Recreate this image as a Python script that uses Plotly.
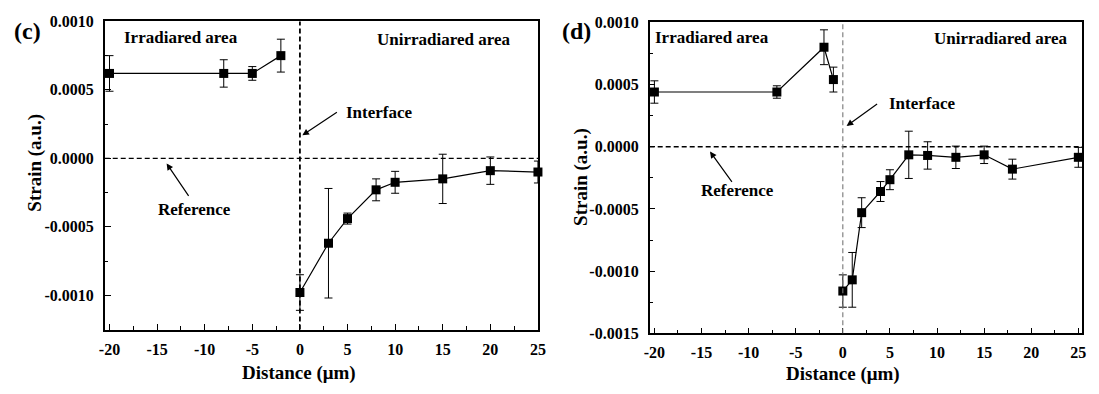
import plotly.graph_objects as go

# ---- panel (c) ----
c_irr_x = [-20, -8, -5, -2]
c_irr_y = [0.00062, 0.00062, 0.00062, 0.00075]
c_irr_err = [0.00013, 0.00010, 0.00005, 0.00012]

c_un_x = [0, 3, 5, 8, 10, 15, 20, 25]
c_un_y = [-0.00098, -0.00062, -0.00044, -0.00023, -0.000175, -0.00015, -0.00009, -0.0001]
c_un_err = [0.00013, 0.00040, 0.00004, 0.00008, 0.00008, 0.00018, 0.00010, 0.00008]

# ---- panel (d) ----
d_irr_x = [-20, -7, -2, -1]
d_irr_y = [0.00044, 0.00044, 0.00080, 0.00054]
d_irr_err = [0.00009, 0.00005, 0.00014, 0.00010]

d_un_x = [0, 1, 2, 4, 5, 7, 9, 12, 15, 18, 25]
d_un_y = [-0.00116, -0.00107, -0.00053, -0.00036, -0.000265, -0.000065, -0.00007,
          -0.000085, -0.000065, -0.00018, -0.000085]
d_un_err = [0.00013, 0.00022, 0.00012, 0.00008, 0.00008, 0.00019, 0.00011,
            0.00009, 0.00007, 0.00008, 0.00008]

x_ticks = [-20, -15, -10, -5, 0, 5, 10, 15, 20, 25]
c_y_ticks = [0.0010, 0.0005, 0.0, -0.0005, -0.0010]
c_y_labels = ["0.0010", "0.0005", "0.0000", "-0.0005", "-0.0010"]
d_y_ticks = [0.0010, 0.0005, 0.0, -0.0005, -0.0010, -0.0015]
d_y_labels = ["0.0010", "0.0005", "0.0000", "-0.0005", "-0.0010", "-0.0015"]

W, H = 1099, 394
FONT = "Liberation Serif, Times New Roman, serif"


def px(x):
    return x / W


def py(y):
    return 1 - y / H


fig = go.Figure()


def add_series(xs, ys, errs, xa, ya):
    fig.add_trace(go.Scatter(
        x=xs, y=ys, mode="lines+markers", xaxis=xa, yaxis=ya,
        line=dict(color="black", width=1.2),
        marker=dict(symbol="square", size=9, color="black"),
        error_y=dict(type="data", array=errs, visible=True,
                     color="black", thickness=1, width=4),
        showlegend=False, cliponaxis=False,
    ))


add_series(c_irr_x, c_irr_y, c_irr_err, "x", "y")
add_series(c_un_x, c_un_y, c_un_err, "x", "y")
add_series(d_irr_x, d_irr_y, d_irr_err, "x2", "y2")
add_series(d_un_x, d_un_y, d_un_err, "x2", "y2")

tickfont = dict(family=FONT, size=16, color="black", weight="bold")
common_x = dict(
    tickmode="array", tickvals=x_ticks, ticktext=[str(v) for v in x_ticks],
    ticks="inside", ticklen=6, tickwidth=1.2, tickcolor="black",
    minor=dict(ticks="inside", ticklen=3.5, tickwidth=1, tickcolor="black", dtick=2.5, tick0=0),
    showline=True, linecolor="black", linewidth=1.6, mirror=True,
    showgrid=False, zeroline=False, tickfont=tickfont, ticklabelstandoff=4,
)
common_y = dict(
    tickmode="array",
    ticks="inside", ticklen=6, tickwidth=1.2, tickcolor="black",
    minor=dict(ticks="inside", ticklen=3.5, tickwidth=1, tickcolor="black", dtick=0.00025, tick0=0),
    showline=True, linecolor="black", linewidth=1.6, mirror=True,
    showgrid=False, zeroline=False, tickfont=tickfont, ticklabelstandoff=6,
)

fig.update_layout(
    width=W, height=H, margin=dict(l=0, r=0, t=0, b=0),
    paper_bgcolor="white", plot_bgcolor="white",
    xaxis=dict(common_x, domain=[px(100), px(539)], range=[-20.5, 25.02], anchor="y"),
    yaxis=dict(common_y, domain=[py(336), py(14)], range=[-0.00125, 0.0010],
               tickvals=c_y_ticks, ticktext=c_y_labels, anchor="x"),
    xaxis2=dict(common_x, domain=[px(652), px(1090)], range=[-20.5, 25.4], anchor="y2"),
    yaxis2=dict(common_y, domain=[py(340), py(15)], range=[-0.0015, 0.0010],
                tickvals=d_y_ticks, ticktext=d_y_labels, anchor="x2"),
)

# Reference (strain = 0) and interface (distance = 0) guide lines
fig.add_shape(type="line", xref="x domain", yref="y", x0=0, x1=1, y0=0, y1=0,
              line=dict(color="black", width=1.2, dash="5px,3px"))
fig.add_shape(type="line", xref="x", yref="y domain", x0=0, x1=0, y0=0, y1=1,
              line=dict(color="black", width=1.8, dash="5px,3px"))
fig.add_shape(type="line", xref="x2 domain", yref="y2", x0=0, x1=1, y0=0, y1=0,
              line=dict(color="black", width=1.6, dash="5px,3px"))
fig.add_shape(type="line", xref="x2", yref="y2 domain", x0=0, x1=0, y0=0, y1=1,
              line=dict(color="#777777", width=1.1, dash="5px,3px"))

ann_font = dict(family=FONT, size=17, color="black")
title_font = dict(family=FONT, size=19, color="black")


def text(x, y, s, font=ann_font, angle=0):
    fig.add_annotation(x=px(x), y=py(y), xref="paper", yref="paper", text=s,
                       showarrow=False, font=font, textangle=angle,
                       xanchor="center", yanchor="middle")


def arrow(xref, yref, hx, hy, ax, ay):
    fig.add_annotation(x=hx, y=hy, xref=xref, yref=yref, text="", showarrow=True,
                       ax=ax, ay=ay, arrowhead=2, arrowsize=1.1, arrowwidth=1.2,
                       arrowcolor="black")


# panel (c) labels
text(22, 24, "<b>(c)</b>", font=dict(family=FONT, size=24, color="black"))
text(177, 31, "<b>Irradiared area</b>")
text(443, 33, "<b>Unirradiared area</b>")
text(378, 109, "<b>Interface</b>")
text(191, 211, "<b>Reference</b>")
arrow("x", "y", 0.26, 0.000168, 36, -24)
arrow("x", "y", -14.0, -0.000037, 23, 34)
text(297, 381, "<b>Distance (μm)</b>", font=title_font)
text(29, 162, "<b>Strain (a.u.)</b>", font=title_font, angle=-90)

# panel (d) labels
text(578, 24, "<b>(d)</b>", font=dict(family=FONT, size=24, color="black"))
text(715, 31, "<b>Irradiared area</b>")
text(1007, 32, "<b>Unirradiared area</b>")
text(928, 100, "<b>Interface</b>")
text(741, 191, "<b>Reference</b>")
arrow("x2", "y2", 0.4, 0.000167, 32, -23)
arrow("x2", "y2", -14.1, -0.000038, 23, 32)
text(848, 382, "<b>Distance (μm)</b>", font=title_font)
text(583, 177, "<b>Strain (a.u.)</b>", font=title_font, angle=-90)

fig.write_html("out.html")
